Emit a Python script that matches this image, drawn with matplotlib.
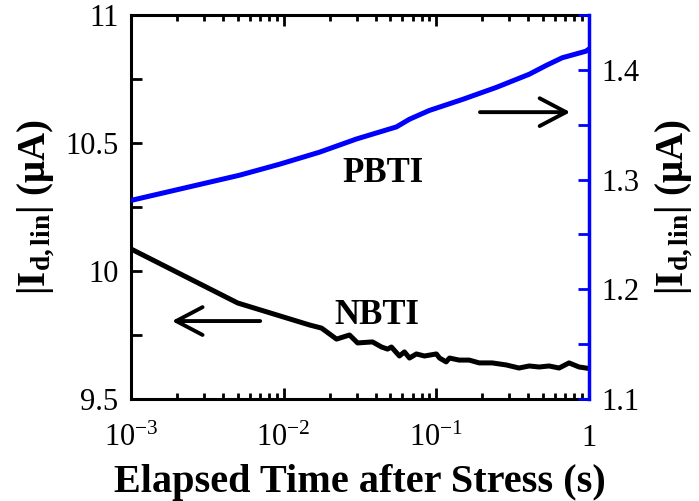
import matplotlib
matplotlib.use("Agg")
import matplotlib.pyplot as plt
from matplotlib.ticker import LogLocator, FixedLocator, NullFormatter, FixedFormatter

plt.rcParams['font.family'] = ['Liberation Serif', 'DejaVu Serif']
plt.rcParams['mathtext.fontset'] = 'custom'
plt.rcParams['mathtext.rm'] = 'Liberation Serif'
plt.rcParams['mathtext.it'] = 'Liberation Serif:italic'
plt.rcParams['mathtext.bf'] = 'Liberation Serif:bold'

# PBTI (right axis, uA)
pbti_t = [0.001, 0.00515, 0.0094, 0.0172, 0.030, 0.0548, 0.0667, 0.090,
          0.148, 0.247, 0.406, 0.524, 0.667, 0.955, 1.0]
pbti_i = [1.281, 1.304, 1.314, 1.325, 1.337, 1.348, 1.355, 1.363,
          1.373, 1.384, 1.396, 1.404, 1.411, 1.417, 1.419]

# NBTI (left axis, uA)
nbti_t = [0.001, 0.0050, 0.0148, 0.0177, 0.0222, 0.0270, 0.0305, 0.0382,
          0.0438, 0.0479, 0.0508, 0.0573, 0.0618, 0.0667, 0.0740, 0.0836,
          0.100, 0.105, 0.116, 0.122, 0.141, 0.164, 0.191, 0.232, 0.287,
          0.348, 0.406, 0.471, 0.548, 0.637, 0.740, 0.861, 0.955]
nbti_i = [10.086, 9.875, 9.789, 9.777, 9.734, 9.750, 9.719, 9.723,
          9.703, 9.695, 9.703, 9.668, 9.684, 9.660, 9.676, 9.668,
          9.676, 9.660, 9.645, 9.660, 9.652, 9.652, 9.641, 9.641, 9.633,
          9.621, 9.629, 9.625, 9.629, 9.621, 9.641, 9.625, 9.621]

xtick_vals = [1e-3, 1e-2, 1e-1, 1]
xtick_labels = [r'$\mathregular{10^{-3}}$', r'$\mathregular{10^{-2}}$',
                r'$\mathregular{10^{-1}}$', '1']
left_ticks = [9.5, 9.75, 10, 10.25, 10.5, 10.75, 11]
left_labels = ['9.5', '', '10', '', '10.5', '', '11']
right_ticks = [1.1, 1.15, 1.2, 1.25, 1.3, 1.35, 1.4, 1.45]
right_labels = ['1.1', '', '1.2', '', '1.3', '', '1.4', '']

fig = plt.figure(figsize=(6.99, 5.01), dpi=100)
ax = fig.add_axes([131/699, 1-399/501, 458/699, 384/501])
ax2 = ax.twinx()

ax.plot(nbti_t, nbti_i, color='black', lw=3.6, solid_joinstyle='round')
ax2.plot(pbti_t, pbti_i, color='#0000ff', lw=3.6, solid_joinstyle='round')

ax.set_xscale('log')
ax.set_xlim(1e-3, 1)
ax.set_ylim(9.5, 11)
ax2.set_ylim(1.1, 1.45)

ax.xaxis.set_major_locator(FixedLocator(xtick_vals))
ax.xaxis.set_major_formatter(FixedFormatter(xtick_labels))
ax.xaxis.set_minor_locator(LogLocator(base=10, subs=range(2, 10), numticks=20))
ax.xaxis.set_minor_formatter(NullFormatter())

ax.yaxis.set_major_locator(FixedLocator(left_ticks))
ax.yaxis.set_major_formatter(FixedFormatter(left_labels))
ax2.yaxis.set_major_locator(FixedLocator(right_ticks))
ax2.yaxis.set_major_formatter(FixedFormatter(right_labels))

ax.tick_params(axis='x', which='major', direction='in', top=True, length=8, width=2,
               labelsize=22, pad=18)
ax.tick_params(axis='x', which='minor', direction='in', top=True, length=4, width=2)
ax.tick_params(axis='y', which='major', direction='in', length=8, width=2,
               labelsize=22, pad=9, right=False)
ax2.tick_params(axis='y', which='major', direction='in', length=8, width=2,
                labelsize=22, pad=9, color='#0000ff', labelcolor='black')

for s in ['left', 'bottom', 'top']:
    ax.spines[s].set_linewidth(2.2)
    ax.spines[s].set_color('black')
ax.spines['right'].set_visible(False)
for s in ['left', 'bottom', 'top']:
    ax2.spines[s].set_visible(False)
ax2.spines['right'].set_linewidth(2.5)
ax2.spines['right'].set_color('#0000ff')

ax.set_xlabel('Elapsed Time after Stress (s)', fontsize=29, fontweight='bold', labelpad=8)
ax.set_ylabel(r'|I$_{\mathbf{d,lin}}$| (μA)', fontsize=28, fontweight='bold', labelpad=6)
ax2.set_ylabel(r'|I$_{\mathbf{d,lin}}$| (μA)', fontsize=28, fontweight='bold', labelpad=10)

ax.text(0.550, 0.586, 'PBTI', transform=ax.transAxes, fontsize=25, fontweight='bold',
        ha='center', va='center')
ax.text(0.537, 0.218, 'NBTI', transform=ax.transAxes, fontsize=25, fontweight='bold',
        ha='center', va='center')

arrow_style = dict(arrowstyle='->,head_length=0.95,head_width=0.5', lw=2.8,
                   color='black', mutation_scale=20, shrinkA=0, shrinkB=0)
ax.annotate('', xy=(0.0895, 0.203), xytext=(0.282, 0.203), xycoords='axes fraction',
            textcoords='axes fraction', arrowprops=arrow_style)
ax.annotate('', xy=(0.959, 0.747), xytext=(0.762, 0.747), xycoords='axes fraction',
            textcoords='axes fraction', arrowprops=arrow_style)

fig.savefig('out.png', dpi=100)
